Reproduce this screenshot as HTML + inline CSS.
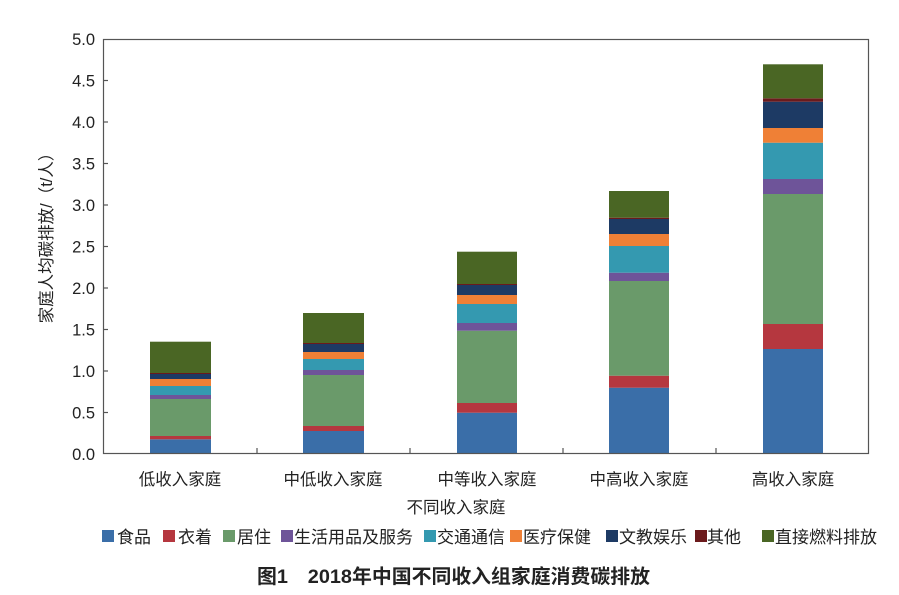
<!DOCTYPE html>
<html><head><meta charset="utf-8"><style>
body{margin:0;background:#fff;}
svg text{font-family:"Liberation Sans","Noto Sans CJK SC",sans-serif;fill:#222;}
</style></head><body>
<svg width="899" height="590" viewBox="0 0 899 590" xmlns="http://www.w3.org/2000/svg">
<rect width="899" height="590" fill="#fff"/>
<g id="bars">
<rect x="150" y="439.3" width="61" height="14.2" fill="#3a6ea8"/>
<rect x="150" y="436" width="61" height="3.3" fill="#b5373f"/>
<rect x="150" y="399" width="61" height="37" fill="#6a9a6a"/>
<rect x="150" y="395" width="61" height="4" fill="#6e5499"/>
<rect x="150" y="386" width="61" height="9" fill="#3499b0"/>
<rect x="150" y="379" width="61" height="7" fill="#ef8036"/>
<rect x="150" y="374" width="61" height="5" fill="#1d3a64"/>
<rect x="150" y="373" width="61" height="1" fill="#6b1a1c"/>
<rect x="150" y="341.7" width="61" height="31.3" fill="#4a6624"/>
<rect x="303" y="431" width="61" height="22.5" fill="#3a6ea8"/>
<rect x="303" y="426" width="61" height="5" fill="#b5373f"/>
<rect x="303" y="375" width="61" height="51" fill="#6a9a6a"/>
<rect x="303" y="370" width="61" height="5" fill="#6e5499"/>
<rect x="303" y="359" width="61" height="11" fill="#3499b0"/>
<rect x="303" y="352" width="61" height="7" fill="#ef8036"/>
<rect x="303" y="344" width="61" height="8" fill="#1d3a64"/>
<rect x="303" y="343" width="61" height="1" fill="#6b1a1c"/>
<rect x="303" y="313" width="61" height="30" fill="#4a6624"/>
<rect x="457" y="412.7" width="60" height="40.8" fill="#3a6ea8"/>
<rect x="457" y="403" width="60" height="9.7" fill="#b5373f"/>
<rect x="457" y="330.7" width="60" height="72.3" fill="#6a9a6a"/>
<rect x="457" y="323" width="60" height="7.7" fill="#6e5499"/>
<rect x="457" y="304" width="60" height="19" fill="#3499b0"/>
<rect x="457" y="295" width="60" height="9" fill="#ef8036"/>
<rect x="457" y="285" width="60" height="10" fill="#1d3a64"/>
<rect x="457" y="284" width="60" height="1" fill="#6b1a1c"/>
<rect x="457" y="251.7" width="60" height="32.3" fill="#4a6624"/>
<rect x="609" y="387.7" width="60" height="65.8" fill="#3a6ea8"/>
<rect x="609" y="375.7" width="60" height="12" fill="#b5373f"/>
<rect x="609" y="281" width="60" height="94.7" fill="#6a9a6a"/>
<rect x="609" y="272.7" width="60" height="8.3" fill="#6e5499"/>
<rect x="609" y="246" width="60" height="26.7" fill="#3499b0"/>
<rect x="609" y="234" width="60" height="12" fill="#ef8036"/>
<rect x="609" y="219" width="60" height="15" fill="#1d3a64"/>
<rect x="609" y="217.7" width="60" height="1.3" fill="#6b1a1c"/>
<rect x="609" y="191" width="60" height="26.7" fill="#4a6624"/>
<rect x="763" y="349" width="60" height="104.5" fill="#3a6ea8"/>
<rect x="763" y="324" width="60" height="25" fill="#b5373f"/>
<rect x="763" y="194" width="60" height="130" fill="#6a9a6a"/>
<rect x="763" y="179" width="60" height="15" fill="#6e5499"/>
<rect x="763" y="142.7" width="60" height="36.3" fill="#3499b0"/>
<rect x="763" y="128" width="60" height="14.7" fill="#ef8036"/>
<rect x="763" y="101.7" width="60" height="26.3" fill="#1d3a64"/>
<rect x="763" y="98.3" width="60" height="3.4" fill="#6b1a1c"/>
<rect x="763" y="64.3" width="60" height="34" fill="#4a6624"/>
</g>
<rect x="103.5" y="39.5" width="765" height="414" fill="none" stroke="#555" stroke-width="1.2"/>
<g stroke="#555" stroke-width="1.2">
<line x1="103" y1="412.5" x2="108" y2="412.5"/><line x1="103" y1="371" x2="108" y2="371"/>
<line x1="103" y1="329.5" x2="108" y2="329.5"/><line x1="103" y1="288" x2="108" y2="288"/>
<line x1="103" y1="246.5" x2="108" y2="246.5"/><line x1="103" y1="205" x2="108" y2="205"/>
<line x1="103" y1="163.5" x2="108" y2="163.5"/><line x1="103" y1="122" x2="108" y2="122"/>
<line x1="103" y1="80.5" x2="108" y2="80.5"/>
<line x1="257" y1="453" x2="257" y2="448"/><line x1="410" y1="453" x2="410" y2="448"/>
<line x1="563" y1="453" x2="563" y2="448"/><line x1="716" y1="453" x2="716" y2="448"/>
</g>
<g font-size="16.5" text-anchor="end">
<text x="95" y="460">0.0</text><text x="95" y="418.5">0.5</text><text x="95" y="377">1.0</text>
<text x="95" y="335.5">1.5</text><text x="95" y="294">2.0</text><text x="95" y="252.5">2.5</text>
<text x="95" y="211">3.0</text><text x="95" y="169.5">3.5</text><text x="95" y="128">4.0</text>
<text x="95" y="86.5">4.5</text><text x="95" y="45">5.0</text>
</g>
<text transform="translate(52,234) rotate(-90)" font-size="16.5" text-anchor="middle">家庭人均碳排放/（t/人）</text>
<g font-size="16.5" text-anchor="middle">
<text x="180" y="485">低收入家庭</text><text x="333" y="485">中低收入家庭</text>
<text x="487" y="485">中等收入家庭</text><text x="639" y="485">中高收入家庭</text>
<text x="793" y="485">高收入家庭</text>
<text x="456" y="513">不同收入家庭</text>
</g>
<g font-size="17">
<rect x="102" y="530" width="12" height="12" fill="#3a6ea8"/><text x="117" y="543">食品</text>
<rect x="163" y="530" width="12" height="12" fill="#b5373f"/><text x="178" y="543">衣着</text>
<rect x="223" y="530" width="12" height="12" fill="#6a9a6a"/><text x="237" y="543">居住</text>
<rect x="281" y="530" width="12" height="12" fill="#6e5499"/><text x="294" y="543">生活用品及服务</text>
<rect x="424" y="530" width="12" height="12" fill="#3499b0"/><text x="437" y="543">交通通信</text>
<rect x="510" y="530" width="12" height="12" fill="#ef8036"/><text x="523" y="543">医疗保健</text>
<rect x="606" y="530" width="12" height="12" fill="#1d3a64"/><text x="619" y="543">文教娱乐</text>
<rect x="695" y="530" width="12" height="12" fill="#6b1a1c"/><text x="707" y="543">其他</text>
<rect x="762" y="530" width="12" height="12" fill="#4a6624"/><text x="775" y="543">直接燃料排放</text>
</g>
<text x="257" y="583" font-size="19.5" font-weight="bold" textLength="393" lengthAdjust="spacingAndGlyphs">图1　2018年中国不同收入组家庭消费碳排放</text>
</svg>
</body></html>
